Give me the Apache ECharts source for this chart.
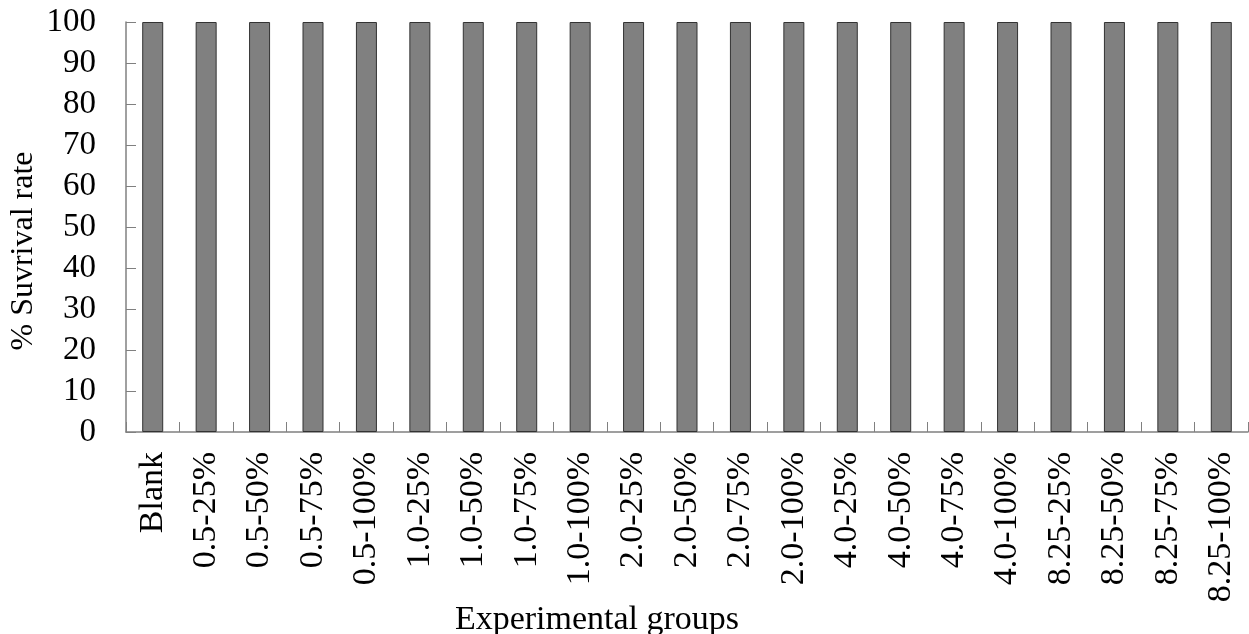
<!DOCTYPE html>
<html><head><meta charset="utf-8">
<script src="https://cdn.jsdelivr.net/npm/echarts@6/dist/echarts.min.js"></script>
<style>html,body{margin:0;padding:0;background:#fff}#c{width:1249px;height:634px}</style>
</head><body><div id="c"></div>
<script>
const categories = ['Blank','0.5-25%','0.5-50%','0.5-75%','0.5-100%','1.0-25%','1.0-50%','1.0-75%','1.0-100%','2.0-25%','2.0-50%','2.0-75%','2.0-100%','4.0-25%','4.0-50%','4.0-75%','4.0-100%','8.25-25%','8.25-50%','8.25-75%','8.25-100%'];
const survival = [100,100,100,100,100,100,100,100,100,100,100,100,100,100,100,100,100,100,100,100,100];
const FONT = '"Liberation Serif","Times New Roman",serif';
const chart = echarts.init(document.getElementById('c'));
chart.setOption({
  animation: false,
  grid: {left: 126, right: 1, top: 22, bottom: 202, containLabel: false, outerBoundsMode: 'none'},
  xAxis: {
    type: 'category', data: categories,
    name: 'Experimental groups', nameLocation: 'middle', nameGap: 171, nameMoveOverlap: false,
    nameTextStyle: {fontFamily: FONT, fontSize: 34, color: '#000', padding: [0, 180, 0, 0]},
    axisLine: {lineStyle: {color: '#808080', width: 1.5}},
    axisTick: {show: true, inside: true, length: 10, alignWithLabel: false, lineStyle: {color: '#808080'}},
    axisLabel: {rotate: 90, margin: 20, fontFamily: FONT, fontSize: 34, color: '#000', interval: 0}
  },
  yAxis: {
    type: 'value', min: 0, max: 100, interval: 10,
    name: '% Suvrival rate', nameLocation: 'middle', nameGap: 86, nameMoveOverlap: false,
    nameTextStyle: {fontFamily: FONT, fontSize: 32, color: '#000', padding: [0, 48, 0, 0]},
    axisLine: {show: true, lineStyle: {color: '#808080', width: 1.5}},
    axisTick: {show: true, inside: true, length: 10, lineStyle: {color: '#808080'}},
    axisLabel: {margin: 30, fontFamily: FONT, fontSize: 33, color: '#000'},
    splitLine: {show: false}
  },
  series: [{
    type: 'bar', data: survival, barWidth: 21,
    itemStyle: {color: '#808080', borderColor: '#333', borderWidth: 1}
  }]
});
</script></body></html>
